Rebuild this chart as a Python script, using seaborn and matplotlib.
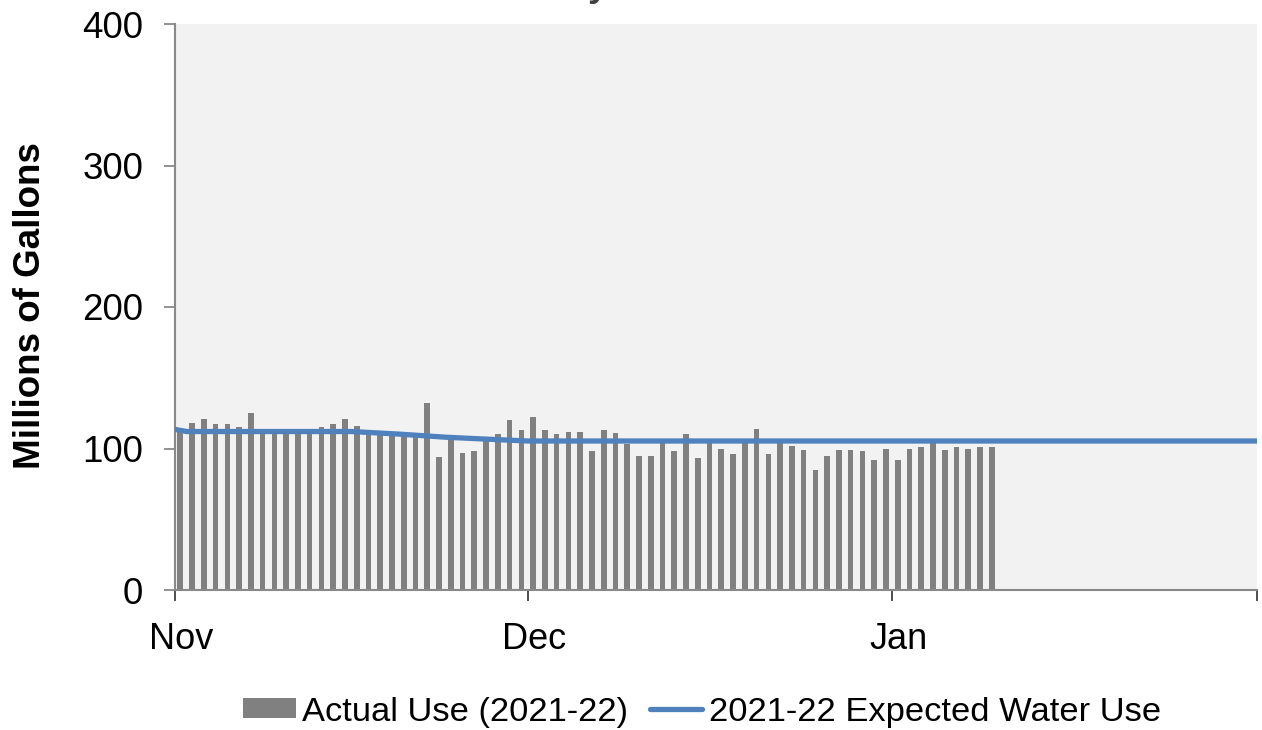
import pandas as pd
import numpy as np
import matplotlib
matplotlib.use("Agg")
import matplotlib.pyplot as plt
import matplotlib.dates as mdates
from matplotlib.ticker import FixedLocator, FixedFormatter, NullFormatter
import seaborn as sns

# --------------------------
# Data
# --------------------------
actual_nov = [114, 118, 121, 117, 117, 115, 125, 114, 113, 112,
              111, 111, 115, 117, 121, 116, 110, 110, 109, 112,
              108, 132, 94, 107, 97, 98, 105, 110, 120, 113]
actual_dec = [122, 113, 110, 112, 112, 98, 113, 111, 103, 95,
              95, 104, 98, 110, 93, 104, 100, 96, 104, 114,
              96, 104, 102, 99, 85, 95, 99, 99, 98, 92, 100]
actual_jan = [92, 100, 101, 104, 99, 101, 100, 101, 101]
actual_use = actual_nov + actual_dec + actual_jan

expected_dates = ["2021-11-01", "2021-11-02", "2021-11-16", "2021-11-20",
                  "2021-11-24", "2021-11-27", "2021-12-01", "2022-02-01"]
expected_use = [113.5, 112, 112, 110.2, 108, 106.8, 105.3, 105.3]

month_ticks = ["2021-11-01", "2021-12-01", "2022-01-01", "2022-02-01"]
month_labels = ["Nov", "Dec", "Jan"]

bar_label = "Actual Use (2021-22)"
line_label = "2021-22 Expected Water Use"

# --------------------------
# Style
# --------------------------
sns.set_theme(style="white")
plt.rcParams['font.family'] = ['Liberation Sans', 'DejaVu Sans']
plt.rcParams['text.color'] = 'black'

bar_dates = pd.date_range("2021-11-01", periods=len(actual_use), freq="D")
bar_x = mdates.date2num(bar_dates.to_pydatetime()) + 0.45
line_x = mdates.date2num(pd.to_datetime(expected_dates).to_pydatetime())
tick_x = mdates.date2num(pd.to_datetime(month_ticks).to_pydatetime())

fig = plt.figure(figsize=(12.62, 7.30), dpi=100)
ax = fig.add_axes([175 / 1262, 140 / 730, 1082 / 1262, 566 / 730])
ax.set_facecolor('#F2F2F2')

sns.barplot(x=bar_x, y=actual_use, native_scale=True, width=0.48,
            color='#808080', saturation=1, errorbar=None, ax=ax,
            label=bar_label, linewidth=0)
sns.lineplot(x=line_x, y=expected_use, color='#4F81BD', linewidth=3.8,
             solid_capstyle='round', ax=ax, label=line_label, zorder=5)

ax.set_xlim(tick_x[0], tick_x[-1])
ax.set_ylim(0, 400)
ax.set_yticks([0, 100, 200, 300, 400])
ax.set_xlabel('')
ax.set_ylabel('')

# month ticks: marks at the first of month, labels shifted half a day
ax.xaxis.set_major_locator(FixedLocator(tick_x))
ax.xaxis.set_major_formatter(NullFormatter())
ax.xaxis.set_minor_locator(FixedLocator(tick_x[:3] + 0.5))
ax.xaxis.set_minor_formatter(FixedFormatter(month_labels))

ax.tick_params(axis='x', which='major', bottom=True, length=8, width=1.3,
               color='#404040')
ax.tick_params(axis='x', which='minor', bottom=True, length=0, pad=23,
               labelsize=26, labelcolor='black')
ax.tick_params(axis='y', left=True, length=8, width=1.3, color='#898989',
               pad=15, labelsize=26.5, labelcolor='black')

for side in ['top', 'right']:
    ax.spines[side].set_visible(False)
for side in ['left', 'bottom']:
    ax.spines[side].set_color('#898989')
    ax.spines[side].set_linewidth(1.5)

fig.text(31 / 1262, (730 - 306) / 730, 'Millions of Gallons', rotation=90,
         ha='center', va='center', fontsize=26.5, fontweight='bold',
         color='black')
fig.text(522 / 1262, 1 + 3.8 / 730, 'Daily Water Use', ha='left',
         va='baseline', fontsize=26, fontweight='bold', color='#404040')

handles, labels = ax.get_legend_handles_labels()
order = [labels.index(bar_label), labels.index(line_label)]
if ax.get_legend() is not None:
    ax.get_legend().remove()
fig.legend([handles[i] for i in order], [labels[i] for i in order],
           loc='center', bbox_to_anchor=(702 / 1262, 18 / 730),
           ncol=2, frameon=False, fontsize=24.8, handlelength=1.53,
           handletextpad=0.18, columnspacing=0.62, handleheight=0.5,
           borderaxespad=0, borderpad=0)

fig.savefig('out.png', dpi=100)
